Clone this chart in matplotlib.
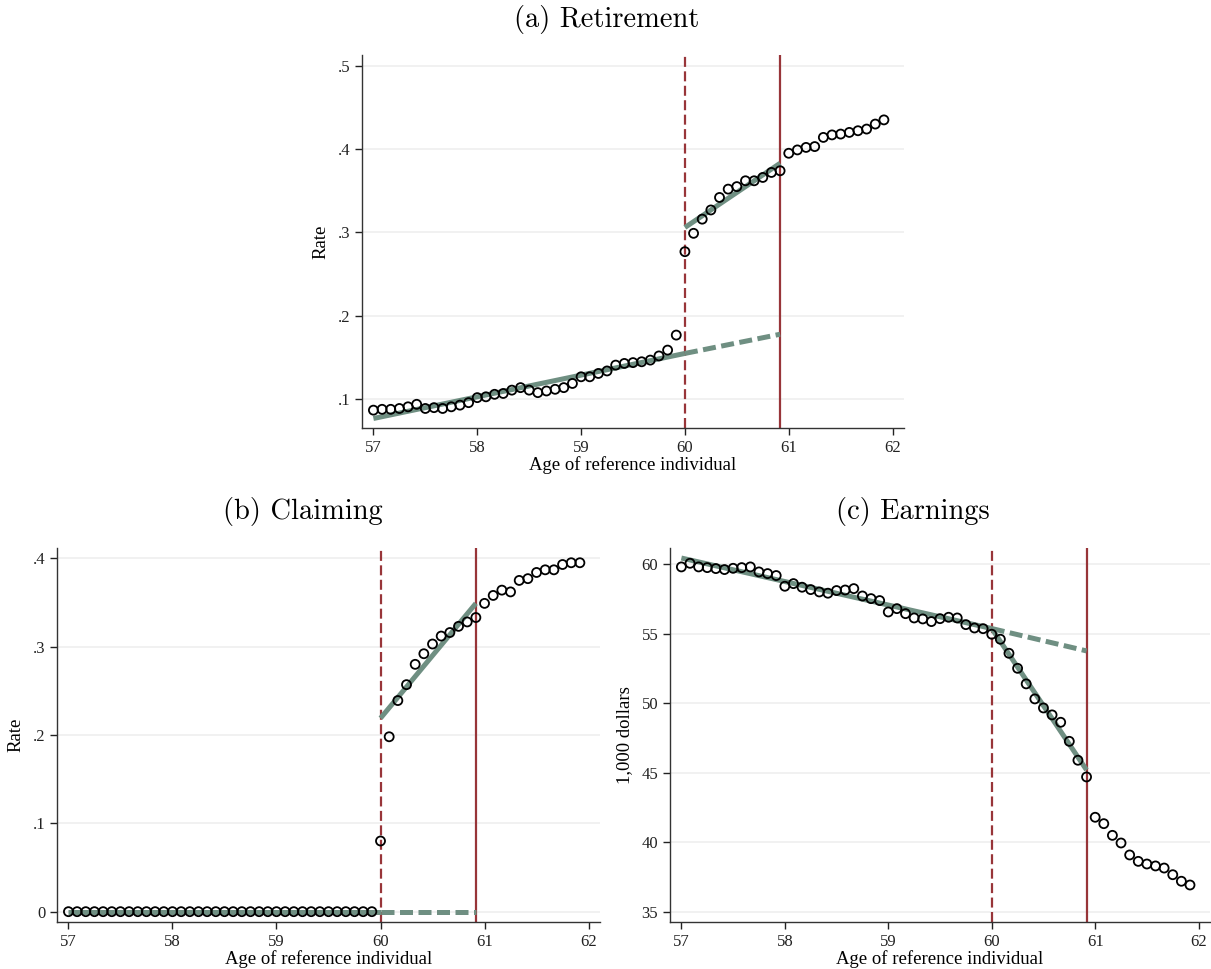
import numpy as np
import matplotlib
matplotlib.use("Agg")
import matplotlib.pyplot as plt

# --- data (monthly bins, age 57 to 61 11/12) ---
ages = 57 + np.arange(60) / 12

retirement = [0.087, 0.088, 0.088, 0.089, 0.091, 0.094, 0.089, 0.090, 0.089, 0.091,
              0.093, 0.096, 0.102, 0.103, 0.106, 0.107, 0.111, 0.114, 0.111, 0.108,
              0.110, 0.112, 0.114, 0.119, 0.127, 0.127, 0.131, 0.134, 0.141, 0.143,
              0.144, 0.145, 0.147, 0.152, 0.159, 0.177, 0.277, 0.299, 0.316, 0.327,
              0.342, 0.352, 0.355, 0.362, 0.362, 0.366, 0.372, 0.374, 0.395, 0.399,
              0.402, 0.403, 0.414, 0.417, 0.418, 0.420, 0.422, 0.424, 0.430, 0.435]

claiming = [0.0] * 36 + [0.080, 0.198, 0.239, 0.257, 0.280, 0.292, 0.303, 0.312, 0.316, 0.323,
                         0.328, 0.333, 0.349, 0.358, 0.364, 0.362, 0.375, 0.377, 0.384, 0.387,
                         0.387, 0.393, 0.395, 0.395]

earnings = [59.81, 60.07, 59.81, 59.76, 59.69, 59.62, 59.71, 59.76, 59.81, 59.45,
            59.33, 59.19, 58.42, 58.61, 58.35, 58.18, 58.01, 57.92, 58.11, 58.15,
            58.25, 57.72, 57.53, 57.39, 56.57, 56.81, 56.45, 56.14, 56.07, 55.88,
            56.09, 56.19, 56.14, 55.66, 55.42, 55.37, 54.97, 54.61, 53.60, 52.52,
            51.40, 50.32, 49.67, 49.17, 48.64, 47.27, 45.91, 44.71, 41.81, 41.35,
            40.51, 39.96, 39.10, 38.64, 38.45, 38.31, 38.16, 37.68, 37.21, 36.94]

# fitted lines: endpoints (pre-60 fit, counterfactual extension, post-60 fit)
fit_pre_x = [57, 60]
fit_post_x = [60, 60 + 11 / 12]
ret_fit = {"pre": [0.077, 0.155], "cf": [0.155, 0.178], "post": [0.306, 0.383]}
clm_fit = {"pre": [0.0, 0.0], "cf": [0.0, 0.0], "post": [0.219, 0.349]}
ern_fit = {"pre": [60.45, 55.38], "cf": [55.38, 53.77], "post": [55.38, 45.21]}

# reference age lines
age_dashed = 60
age_solid = 60 + 11 / 12

x_ticks = [57, 58, 59, 60, 61, 62]
ret_yticks = [0.1, 0.2, 0.3, 0.4, 0.5]
ret_ylabels = [".1", ".2", ".3", ".4", ".5"]
clm_yticks = [0.0, 0.1, 0.2, 0.3, 0.4]
clm_ylabels = ["0", ".1", ".2", ".3", ".4"]
ern_yticks = [35, 40, 45, 50, 55, 60]
ern_ylabels = ["35", "40", "45", "50", "55", "60"]

# --- styling ---
FIT_COLOR = "#6f8f82"
VLINE_COLOR = "#983539"
SERIF = ["Liberation Serif", "DejaVu Serif"]
plt.rcParams["font.family"] = SERIF

W, H = 1211, 969
fig = plt.figure(figsize=(W / 100, H / 100), dpi=100)


def px_axes(left, top, right, bottom):
    return fig.add_axes([left / W, 1 - bottom / H, (right - left) / W, (bottom - top) / H])


def draw_panel(ax, y, fit, yticks, ylabels, ylim, ylabel):
    ax.set_xlim(56.89, 62.11)
    ax.set_ylim(*ylim)
    ax.set_yticks(yticks)
    ax.set_yticklabels(ylabels)
    ax.set_xticks(x_ticks)
    ax.grid(axis="y", color="#efefef", linewidth=1.2, zorder=0)
    ax.set_axisbelow(True)
    for side in ("top", "right"):
        ax.spines[side].set_visible(False)
    for side in ("left", "bottom"):
        ax.spines[side].set_linewidth(1.0)
        ax.spines[side].set_color("#333333")
    ax.tick_params(direction="out", length=5, width=1.0, labelsize=12, colors="#222222")

    # vertical reference lines (dashes start flush with the top of the axes)
    ax.axvline(age_dashed, color=VLINE_COLOR, linewidth=1.6, linestyle=(0, (4.5, 2)), zorder=1)
    ax.axvline(age_solid, color=VLINE_COLOR, linewidth=1.6, zorder=1)

    ax.plot(fit_pre_x, fit["pre"], color=FIT_COLOR, linewidth=3.6, solid_capstyle="butt", zorder=2)
    ax.plot(fit_post_x, fit["cf"], color=FIT_COLOR, linewidth=3.6, linestyle=(0, (2.6, 1.1)), zorder=2)
    ax.plot(fit_post_x, fit["post"], color=FIT_COLOR, linewidth=3.6, solid_capstyle="butt", zorder=2)

    ax.scatter(ages, y, s=42, facecolors="none", edgecolors="black", linewidths=1.3, zorder=3)

    ax.set_xlabel("Age of reference individual", fontsize=13.5, labelpad=0)
    ax.set_ylabel(ylabel, fontsize=13.5, labelpad=6)


ax_a = px_axes(362, 55, 904, 428)
draw_panel(ax_a, retirement, ret_fit, ret_yticks, ret_ylabels, (0.0656, 0.5128), "Rate")

ax_b = px_axes(57, 548, 600, 922)
draw_panel(ax_b, claiming, clm_fit, clm_yticks, clm_ylabels, (-0.0117, 0.4117), "Rate")

ax_c = px_axes(670, 548, 1210, 922)
draw_panel(ax_c, earnings, ern_fit, ern_yticks, ern_ylabels, (34.28, 61.17), "1,000 dollars")

# panel titles
title_font = dict(family=["cmr10", "DejaVu Serif"], fontsize=20.5, ha="center", va="center")
fig.text(607 / W, 1 - 19 / H, "(a) Retirement", **title_font)
fig.text(303 / W, 1 - 512 / H, "(b) Claiming", **title_font)
fig.text(913 / W, 1 - 512 / H, "(c) Earnings", **title_font)

fig.savefig("out.png", dpi=100)
